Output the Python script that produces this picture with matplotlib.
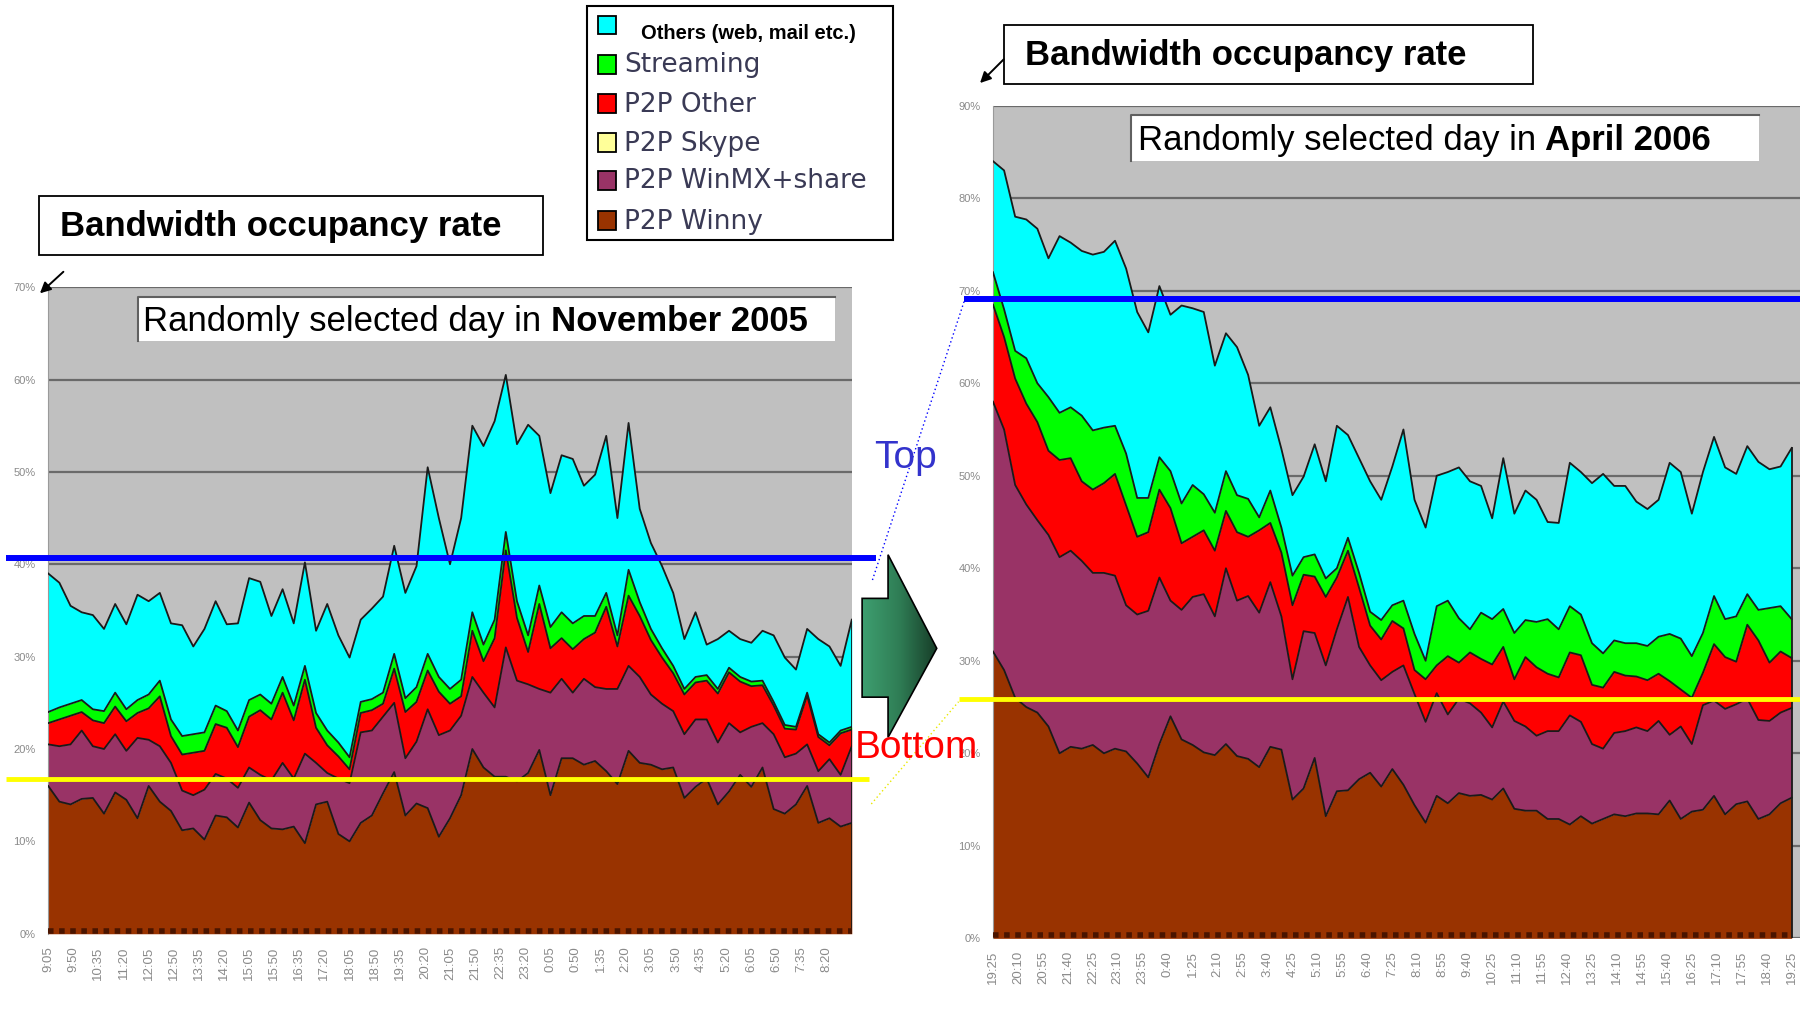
import numpy as np
import matplotlib
matplotlib.use("Agg")
import matplotlib.pyplot as plt
from matplotlib.patches import Rectangle, Polygon
from matplotlib import transforms
from matplotlib.colors import LinearSegmentedColormap

plt.rcParams['font.family'] = ['Liberation Sans', 'DejaVu Sans']

# ---------------- data ----------------
series_names = ['Others (web, mail etc.)', 'Streaming', 'P2P Other', 'P2P Skype',
                'P2P WinMX+share', 'P2P Winny']
series_colors = ['#00ffff', '#00ff00', '#ff0000', '#ffff99', '#993366', '#993300']

nov_tick_labels = ['9:05', '9:50', '10:35', '11:20', '12:05', '12:50', '13:35', '14:20',
                   '15:05', '15:50', '16:35', '17:20', '18:05', '18:50', '19:35', '20:20',
                   '21:05', '21:50', '22:35', '23:20', '0:05', '0:50', '1:35', '2:20',
                   '3:05', '3:50', '4:35', '5:20', '6:05', '6:50', '7:35', '8:20']
apr_tick_labels = ['19:25', '20:10', '20:55', '21:40', '22:25', '23:10', '23:55', '0:40',
                   '1:25', '2:10', '2:55', '3:40', '4:25', '5:10', '5:55', '6:40', '7:25',
                   '8:10', '8:55', '9:40', '10:25', '11:10', '11:55', '12:40', '13:25',
                   '14:10', '14:55', '15:40', '16:25', '17:10', '17:55', '18:40', '19:25']
sample_minutes = 20
tick_minutes = 45

# upper edge of each stacked layer (%), sampled every 20 min - November 2005
nov_winny_top = [16, 14.3, 14, 14.6, 14.7, 13, 15.3, 14.5, 12.5, 16, 14.3, 13.3, 11.2, 11.4, 10.2,
                 12.8, 12.6, 11.5, 14.2, 12.3, 11.4, 11.3, 11.6, 9.8, 14, 14.3, 10.8, 10, 12, 12.8,
                 15.2, 17.5, 12.8, 14.1, 13.6, 10.5, 12.5,
                 15, 20, 18, 17, 17, 16.5, 17.4, 19.9, 15, 19, 19, 18.3, 18.7, 17.6, 16.2, 19.8,
                 18.5, 18.3, 17.8, 18, 14.7, 15.9, 16.8, 14, 15.4, 17.2, 15.9, 18, 13.5, 13, 14,
                 16, 12, 12.5, 11.6, 12]
nov_winmx_top = [20.5, 20.3, 20.5, 22, 20.3, 20, 21.6, 19.8, 21.2, 21, 20.3, 18.5, 15.5, 15, 15.6,
                 17.3, 16.8, 15.8, 18, 17.2, 16.6, 18.5, 16.8, 19.5, 18.5, 17.4, 16.8, 16.3, 21.8,
                 22, 23.5, 25, 19, 20.8, 24.3, 21.5, 22,
                 23.6, 27.8, 26.1, 24.5, 31, 27.4, 27, 26.5, 26.1, 27.6, 26.1, 27.6, 26.7, 26.5,
                 26.5, 29, 27.8, 25.9, 24.9, 24.1, 21.6, 23.2, 23.2, 20.7, 22.8, 21.8, 22.4, 22.8,
                 21.6, 19.1, 19.5, 20.5, 17.6, 18.9, 17.2, 20.3]
nov_other_top = [22.8, 23.2, 23.6, 24, 23.1, 22.8, 24.6, 23, 23.9, 24.4, 25.7, 21.4, 19.4, 19.6,
                 19.8, 22.7, 22.3, 20.2, 23.5, 24.2, 23.2, 26.1, 23.1, 27.5, 22.3, 20.4, 19.2,
                 17.8, 23.9, 24.2, 24.9, 28.7, 24, 25.1, 28.5, 26.2, 24.9,
                 25.7, 32.8, 29.5, 32, 41.5, 34.2, 30.5, 35.7, 30.9, 32, 30.8, 31.9, 32.6, 35.4,
                 31.1, 36.6, 34.4, 31.8, 29.9, 28.2, 25.9, 27.2, 27.4, 26, 28.3, 27.3, 26.8, 26.9,
                 24.7, 22.2, 22.1, 25.8, 21.3, 20.4, 21.7, 22.1]
nov_streaming_top = [24, 24.5, 24.9, 25.3, 24.3, 24.1, 26.1, 24.3, 25.3, 25.9, 27.4, 23.2, 21.4,
                     21.6, 21.8, 24.7, 24.1, 22, 25.3, 25.9, 24.9, 27.8, 24.7, 29, 23.9, 22, 20.7,
                     19.1, 25.1, 25.4, 26.1, 30.3, 25.5, 26.7, 30.3, 27.8, 26.5,
                     27.5, 34.8, 31.3, 34, 43.5, 36, 32.3, 37.7, 33.2, 34.8, 33.6, 34.4, 34.4,
                     36.9, 32.3, 39.4, 35.9, 33, 30.9, 29, 26.5, 27.8, 28, 26.5, 28.8, 27.8, 27.3,
                     27.4, 25.1, 22.6, 22.4, 26.1, 21.6, 20.7, 22, 22.4]
nov_others_top = [39, 38, 35.5, 34.8, 34.5, 33, 35.7, 33.5, 36.7, 36, 36.9, 33.6, 33.4, 31.1, 33,
                  36, 33.5, 33.6, 38.5, 38.1, 34.4, 37.3, 33.6, 40.2, 32.8, 35.7, 32.3, 29.9, 34,
                  35.2, 36.5, 42, 36.9, 39.8, 50.5, 45, 40,
                  45, 55, 52.8, 55.5, 60.5, 53, 55.1, 53.9, 47.7, 51.8, 51.4, 48.5, 49.7, 53.9,
                  45, 55.3, 46, 42.3, 39.8, 36.9, 31.9, 34.8, 31.3, 31.9, 32.8, 31.9, 31.5, 32.8,
                  32.3, 29.9, 28.6, 33, 31.9, 31.1, 29, 34]

# April 2006
apr_winny_top = [31, 29, 26, 25, 24.4, 22.9, 20, 20.7, 20.5, 20.9, 20, 20.5, 20.2, 18.9, 17.4, 21,
                 24, 21.5, 20.9, 20.1, 19.8, 21, 19.7, 19.4, 18.5, 20.7, 20.4, 15, 16.2, 19.5,
                 13.2, 15.9, 16, 17.2, 17.9, 16.4, 18.3,
                 16.6, 14.4, 12.5, 15.4, 14.6, 15.7, 15.4, 15.5, 15, 16.2, 14, 13.8, 13.8, 12.9,
                 12.9, 12.3, 13.2, 12.4, 12.9, 13.4, 13.2, 13.5, 13.5, 13.4, 14.9, 12.9, 13.7,
                 13.9, 15.4, 13.4, 14.5, 14.8, 12.9, 13.4, 14.6, 15.2]
apr_winmx_top = [58, 55, 49, 46.9, 45.2, 43.6, 41.2, 41.9, 40.8, 39.5, 39.5, 39.2, 36, 35, 35.4,
                 39, 36.5, 35.5, 36.9, 37.2, 34.8, 40, 36.5, 37, 35.2, 38.5, 34.8, 28, 33.2, 33,
                 29.5, 33.4, 36.9, 31.5, 29.5, 27.9, 28.8,
                 29.5, 26.4, 23.4, 26.5, 24.2, 25.9, 25.4, 24.4, 22.8, 25.6, 23.5, 22.9, 21.9,
                 22.4, 22.4, 24.1, 23.4, 21, 20.5, 22.2, 22.4, 22.8, 22.4, 23.5, 22, 22.9, 21,
                 25.2, 25.7, 24.8, 25.3, 25.9, 23.6, 23.5, 24.4, 24.9]
apr_other_top = [68.5, 65, 60.5, 57.8, 55.8, 52.7, 51.7, 51.9, 49.4, 48.5, 49.2, 50.2, 46.8, 43.4,
                 43.9, 48.5, 46.5, 42.7, 43.4, 44.1, 41.9, 46.2, 43.9, 43.4, 44.1, 44.9, 41.7, 36,
                 39.3, 39.1, 36.9, 39, 41.9, 37.9, 33.8, 32.3, 34.3,
                 33.5, 29, 28, 29.5, 30.5, 29.8, 30.9, 30.2, 29.6, 31.5, 28, 30.4, 29.3, 28.6,
                 28.2, 30.9, 30.6, 27.4, 27.1, 28.8, 28.4, 28.3, 27.9, 28.6, 27.8, 26.9, 26, 28.7,
                 31.8, 30.4, 29.9, 33.9, 32.2, 29.8, 31, 30.3]
apr_streaming_top = [72, 68, 63.5, 62.7, 60, 58.5, 56.8, 57.4, 56.5, 54.9, 55.2, 55.4, 52.4, 47.6,
                     47.6, 52, 50.5, 47, 49, 48, 46, 50.5, 47.9, 47.5, 45.5, 48.4, 44.4, 39.2,
                     41.2, 41.5, 38.9, 40, 43.3, 39.5, 35.3, 34.4, 36,
                     36.5, 32.9, 30, 35.9, 36.5, 34.6, 33.4, 35.2, 34.5, 35.6, 33, 34.4, 34.2,
                     34.5, 33.4, 35.9, 35, 31.9, 30.8, 32.2, 31.9, 31.9, 31.6, 32.6, 32.9, 32.4,
                     30.5, 33, 37, 34.5, 34.8, 37.2, 35.5, 35.7, 35.9, 34.5]
apr_others_top = [84, 83, 78, 77.7, 76.7, 73.5, 75.9, 75.2, 74.3, 73.9, 74.2, 75.4, 72.4, 67.7,
                  65.5, 70.5, 67.4, 68.4, 68.1, 67.7, 61.9, 65.4, 63.9, 60.9, 55.4, 57.4, 52.9,
                  47.9, 49.9, 53.4, 49.4, 55.4, 54.4, 51.9, 49.4, 47.4, 51,
                  55, 47.4, 44.4, 50, 50.4, 50.9, 49.4, 48.9, 45.4, 51.9, 45.9, 48.4, 47.4, 45,
                  44.9, 51.4, 50.4, 49.2, 50.2, 48.9, 48.9, 47.2, 46.4, 47.4, 51.4, 50.4, 45.9,
                  50.4, 54.2, 50.9, 50.2, 53.2, 51.5, 50.7, 51, 53]

# highlighted levels (%)
nov_top_level, nov_bottom_level = 40.7, 16.7
apr_top_level, apr_bottom_level = 69.1, 25.9

# ---------------- figure ----------------
W, H = 1568.0, 882.0
fig = plt.figure(figsize=(18, 10.13), dpi=100)
fig.patch.set_facecolor('white')


def fa(x0, y0, x1, y1):
    return [x0 / W, 1 - y1 / H, (x1 - x0) / W, (y1 - y0) / H]


def draw_chart(ax, tops, labels, ymax, xmax):
    t = np.arange(len(tops[0])) * sample_minutes / 60.0
    ax.set_facecolor('#c0c0c0')
    ax.set_xlim(0, xmax)
    ax.set_ylim(0, ymax)
    ax.set_yticks(np.arange(0, ymax + 1, 10))
    ax.set_yticklabels(['%d%%' % v for v in np.arange(0, ymax + 1, 10)])
    ax.yaxis.grid(True, color='#6a6a6a', lw=1.6)
    ax.set_axisbelow(True)
    ax.set_xticks(np.arange(len(labels)) * tick_minutes / 60.0)
    ax.set_xticklabels(labels, rotation=90)
    ax.tick_params(axis='both', length=0, colors='#8a8a8a')
    ax.tick_params(axis='x', pad=9, labelsize=9.5)
    ax.tick_params(axis='y', pad=9, labelsize=8)
    for s in ['top', 'right', 'bottom']:
        ax.spines[s].set_visible(False)
    ax.spines['left'].set_color('#9a9a9a')
    colors = ['#993300', '#993366', '#ff0000', '#00ff00', '#00ffff']
    prev = np.zeros(len(t))
    for top, c in zip(tops, colors):
        top = np.asarray(top, float)
        ax.fill_between(t, prev, top, color=c, lw=0, zorder=2)
        ax.plot(t, top, color='#1a1a1a', lw=1.3, zorder=3)
        prev = top
    ax.plot([t[-1], t[-1]], [0, prev[-1]], color='#1a1a1a', lw=1.3, zorder=3)
    ax.plot([0, t[-1]], [0.35, 0.35], color='#4a1500', lw=4, ls=(0, (1.0, 1.0)), zorder=4)


axL = fig.add_axes(fa(42, 250, 742, 813))
draw_chart(axL, [nov_winny_top, nov_winmx_top, nov_other_top, nov_streaming_top, nov_others_top],
           nov_tick_labels, 70, 24)
axR = fig.add_axes(fa(865, 92, 1568, 817))
draw_chart(axR, [apr_winny_top, apr_winmx_top, apr_other_top, apr_streaming_top, apr_others_top],
           apr_tick_labels, 90, 24.25)

# overlay in reference pixel coordinates
ax0 = fig.add_axes([0, 0, 1, 1], zorder=10)
ax0.set_xlim(0, W)
ax0.set_ylim(H, 0)
ax0.axis('off')
ax0.patch.set_alpha(0)

# title boxes
for (x0, y0, x1, y1, tx) in [(34, 171, 473, 222, 52), (875, 22, 1335, 73, 893)]:
    ax0.add_patch(Rectangle((x0, y0), x1 - x0, y1 - y0, facecolor='white', edgecolor='black', lw=1.3))
    ax0.text(tx, (y0 + y1) / 2 + 1, 'Bandwidth occupancy rate', fontsize=25, fontweight='bold',
             ha='left', va='center', color='black')

# subtitle boxes
for (x0, y0, x1, y1, tx, bold) in [(120, 259, 727, 297, 125, 'November 2005'),
                                   (985, 100, 1532, 140, 991, 'April 2006')]:
    ax0.add_patch(Rectangle((x0, y0), x1 - x0, y1 - y0, facecolor='white', edgecolor='none'))
    ax0.plot([x0, x0, x1], [y1, y0, y0], color='#606060', lw=1.5)
    t1 = ax0.text(tx, (y0 + y1) / 2 + 2, 'Randomly selected day in ', fontsize=25,
                  ha='left', va='center', color='black')
    ax0.annotate(bold, xy=(1, 0.5), xycoords=t1, ha='left', va='center', fontsize=25,
                 fontweight='bold', color='black')

# legend
ax0.add_patch(Rectangle((511, 5), 267, 204, facecolor='white', edgecolor='black', lw=1.5))
leg_rows = [22, 56, 90, 124, 157, 192]
for i, (name, col) in enumerate(zip(series_names, series_colors)):
    y = leg_rows[i]
    ax0.add_patch(Rectangle((521, y - 8), 16, 16, facecolor=col, edgecolor='black', lw=1.3))
    if i == 0:
        ax0.text(558, y + 7, name, fontsize=14.5, fontweight='bold', ha='left', va='center',
                 color='black')
    else:
        ax0.text(544, y + 1, name, fontsize=19, family=['DejaVu Sans'], ha='left', va='center',
                 color='#3a3a55')

# small arrows to the y axes
ax0.annotate('', xy=(33, 257), xytext=(57, 235),
             arrowprops=dict(arrowstyle='-|>', color='black', lw=1.4, mutation_scale=16))
ax0.annotate('', xy=(852, 74), xytext=(876, 50),
             arrowprops=dict(arrowstyle='-|>', color='black', lw=1.4, mutation_scale=16))

# highlighted levels
trL = transforms.blended_transform_factory(ax0.transData, axL.transData)
trR = transforms.blended_transform_factory(ax0.transData, axR.transData)
ax0.plot([5, 763], [nov_top_level] * 2, color='#0000ff', lw=4.3, transform=trL,
         solid_capstyle='butt', clip_on=False)
ax0.plot([5, 757], [nov_bottom_level] * 2, color='#ffff00', lw=3.5, transform=trL,
         solid_capstyle='butt', clip_on=False)
ax0.plot([840, 1568], [apr_top_level] * 2, color='#0000ff', lw=4.3, transform=trR,
         solid_capstyle='butt', clip_on=False)
ax0.plot([835, 1568], [apr_bottom_level] * 2, color='#ffff00', lw=3.5, transform=trR,
         solid_capstyle='butt', clip_on=False)
# dotted connectors
ax0.plot([760, 840], [505, 262], color='#0000ff', lw=1.0, ls=(0, (1, 2)))
ax0.plot([759, 835], [700, 611], color='#e8e800', lw=1.0, ls=(0, (1, 2)))

# block arrow with gradient
arrow_pts = [(751, 521), (773.6, 521), (773.6, 483), (816, 564.5), (773.6, 642),
             (773.6, 607), (751, 607)]
poly = Polygon(arrow_pts, closed=True, facecolor='none', edgecolor='black', lw=1.2, zorder=6)
ax0.add_patch(poly)
grad = np.linspace(0, 1, 200).reshape(1, -1)
cmap = LinearSegmentedColormap.from_list('g', ['#3e9f70', '#2f7d55', '#173d28'])
im = ax0.imshow(grad, extent=(751, 816, 642, 483), cmap=cmap, aspect='auto', zorder=5,
                interpolation='bilinear')
im.set_clip_path(poly)
ax0.set_xlim(0, W)
ax0.set_ylim(H, 0)

ax0.text(789, 399, 'Top', fontsize=28, color='#3333cc', ha='center', va='center')
ax0.text(798, 651, 'Bottom', fontsize=28, color='#ff0000', ha='center', va='center', zorder=7)

fig.savefig('out.png', dpi=100)
